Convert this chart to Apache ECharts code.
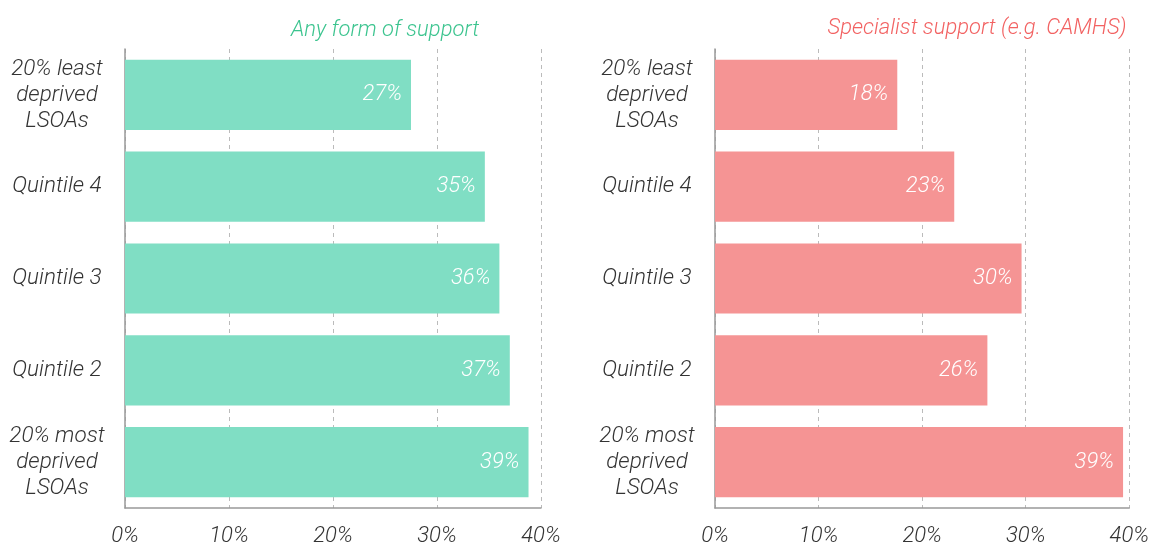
<!DOCTYPE html>
<html><head><meta charset="utf-8">
<script src="https://cdn.jsdelivr.net/npm/echarts@6/dist/echarts.min.js"></script>
<style>html,body{margin:0;padding:0;background:#fff}#c{width:1152px;height:547px}</style>
</head><body><div id="c"></div>
<script>
const categories = ['20% least\ndeprived\nLSOAs', 'Quintile 4', 'Quintile 3', 'Quintile 2', '20% most\ndeprived\nLSOAs'];
const anySupport = [27.5, 34.6, 36.0, 37.0, 38.8];
const anySupportLabels = ['27%', '35%', '36%', '37%', '39%'];
const specialist = [17.6, 23.1, 29.6, 26.3, 39.4];
const specialistLabels = ['18%', '23%', '30%', '26%', '39%'];
const xTicks = [0, 10, 20, 30, 40];
const titles = ['Any form of support', 'Specialist support (e.g. CAMHS)'];

const FONT = 'Roboto';
const FS = 22;
const chart = echarts.init(document.getElementById('c'));
function xAxis(i){
  return {gridIndex:i, type:'value', min:xTicks[0], max:xTicks[xTicks.length-1], interval:10,
    axisLine:{show:true, lineStyle:{color:'#999', width:1.5}},
    axisTick:{show:false},
    splitLine:{show:true, lineStyle:{color:'#bbb', type:[4,4], width:1}},
    axisLabel:{formatter:v=>v+'%', fontFamily:FONT, fontStyle:'italic', fontWeight:300, fontSize:FS, color:'#333', margin:17, showMaxLabel:true}
  };
}
function yAxis(i){
  return {gridIndex:i, type:'category', data:categories, inverse:true,
    axisLine:{show:true, lineStyle:{color:'#999', width:1.5}},
    axisTick:{show:false},
    axisLabel:{fontFamily:FONT, fontStyle:'italic', fontWeight:300, fontSize:22.5, color:'#333', align:'center', margin:68, lineHeight:26, padding:[0,0,6,0]}
  };
}
function series(i, data, labels, color){
  return {type:'bar', xAxisIndex:i, yAxisIndex:i, data:data, barWidth:'76.5%',
    itemStyle:{color:color},
    label:{show:true, position:'insideRight', distance:9, formatter:p=>labels[p.dataIndex],
      fontFamily:FONT, fontStyle:'italic', fontWeight:300, fontSize:FS, color:'#fff'}
  };
}
chart.setOption({
  animation:false,
  title:[
    {text:titles[0], left:380, top:14, textAlign:'center', textStyle:{fontFamily:FONT, fontStyle:'italic', fontWeight:300, fontSize:FS, color:'#3CC48F'}},
    {text:titles[1], left:972, top:12, textAlign:'center', textStyle:{fontFamily:FONT, fontStyle:'italic', fontWeight:300, fontSize:FS, color:'#F26262'}}
  ],
  grid:[
    {left:125, top:49, width:416, height:464},
    {left:715, top:49, width:416, height:464}
  ],
  xAxis:[xAxis(0), xAxis(1)],
  yAxis:[yAxis(0), yAxis(1)],
  series:[series(0, anySupport, anySupportLabels, '#80DEC4'), series(1, specialist, specialistLabels, '#F59494')]
});
</script></body></html>
